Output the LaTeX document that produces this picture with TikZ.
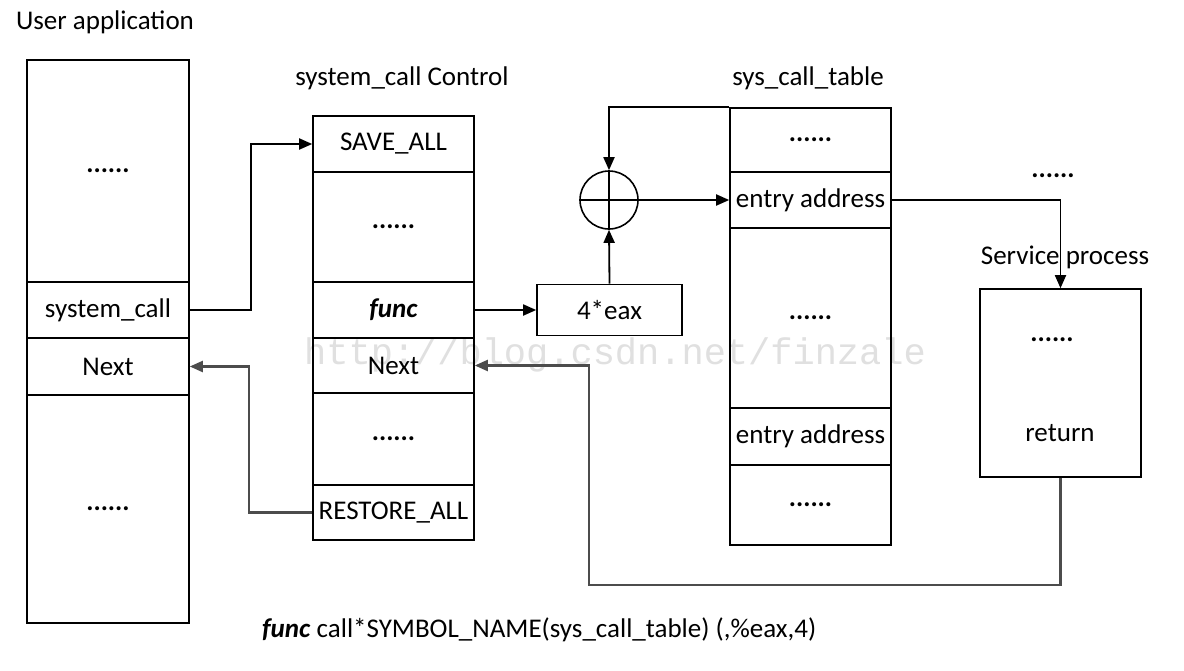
\documentclass[tikz,border=0pt]{standalone}
\usepackage{fontspec}
\setmainfont{Carlito}
\newfontfamily\wmfont{Liberation Mono}
\usetikzlibrary{arrows.meta,calc}
\newcommand{\fsz}{\fontsize{27}{31}\selectfont}
\newcommand{\dotsx}{\textbf{......}}
\begin{document}
\begin{tikzpicture}[x=1pt,y=-1pt,
  cell/.style={draw, line width=1.6pt, minimum width=161pt, inner sep=0pt, font=\fsz},
  lbl/.style={inner sep=0pt, font=\fsz},
  conn/.style={line width=1.8pt, -{Triangle[length=13pt,width=11pt]}},
  gconn/.style={line width=2.2pt, draw=black!70, -{Triangle[length=13pt,width=11pt]}}]
\useasboundingbox (0,0) rectangle (1184,670);
\fill[white] (0,0) rectangle (1184,670);
% watermark
\node[inner sep=0pt, text=black!12, font=\wmfont\fontsize{37}{40}\selectfont] (wm) at (615,355) {http://blog.csdn.net/finzale};
% titles
\node[lbl] (tUser) at (105,22) {User application};
\node[lbl] (tCtrl) at (402,78) {system\_call Control};
\node[lbl] (tTab) at (808,78) {sys\_call\_table};
\node[lbl] (tDots) at (1053,176) {\dotsx};
\node[lbl] (tServ) at (1065,257) {Service process};
% left column
\node[cell, minimum width=162pt, minimum height=222pt] (L1) at (108,171) {\dotsx};
\node[cell, minimum width=162pt, minimum height=56pt] (Lsys) at (108,310) {system\_call};
\node[cell, minimum width=162pt, minimum height=57pt] (Lnext) at (108,366.5) {Next};
\node[cell, minimum width=162pt, minimum height=228pt] (L2) at (108,509) {\dotsx};
% middle column
\node[cell, minimum height=56pt] (Msave) at (393.5,144) {SAVE\_ALL};
\node[cell, minimum height=110pt] (Mdots1) at (393.5,227) {\dotsx};
\node[cell, minimum height=56pt] (Mfunc) at (393.5,310) {\textbf{\textit{func}}};
\node[cell, minimum height=55pt] (Mnext) at (393.5,365.5) {Next};
\node[cell, minimum height=92pt] (Mdots2) at (393.5,439) {\dotsx};
\node[cell, minimum height=55pt] (Mrestore) at (393.5,512.5) {RESTORE\_ALL};
% 4*eax and adder
\node[cell, minimum width=145pt, minimum height=51pt] (eax) at (609.5,310) {4*eax};
\node[draw, circle, line width=1.6pt, minimum size=58pt, inner sep=0pt] (P) at (609,200) {};
\draw[line width=1.4pt] (P.north) -- (P.south) (P.west) -- (P.east);
% table
\node[cell, minimum height=64pt] (T1) at (810.5,140) {\dotsx};
\node[cell, minimum height=56pt] (Tentry) at (810.5,200) {entry address};
\node[cell, minimum height=180pt] (T2) at (810.5,318) {\dotsx};
\node[cell, minimum height=57pt] (Tentry2) at (810.5,436.5) {entry address};
\node[cell, minimum height=80pt] (T3) at (810.5,505) {\dotsx};
% service
\node[cell, minimum height=188pt] (S) at (1060.5,383) {};
\node[lbl] (Sdots) at (1052,340) {\dotsx};
\node[lbl] (Sret) at (1060,433) {return};
% bottom text
\node[lbl, anchor=west] (foot) at (262,630) {\textbf{\textit{func}} call*SYMBOL\_NAME(sys\_call\_table) (,\%eax,4)};
% connectors
\draw[conn] (Lsys.east) -- ++(61,0) |- (Msave.west);
\draw[gconn] (Mrestore.west) -- ++(-63,0) |- (Lnext.east);
\draw[conn] (Mfunc.east) -- (eax.west);
\draw[conn] (eax.north) -- (P.south);
\draw[conn] (T1.north west) -| (P.north);
\draw[conn] (P.east) -- (Tentry.west);
\draw[conn] (Tentry.east) -| (S.north);
\coordinate (r) at ($(Mnext.east)+(114,0)$);
\draw[gconn] (S.south) -- ++(0,107) -| (r) -- (Mnext.east);
\end{tikzpicture}
\end{document}
